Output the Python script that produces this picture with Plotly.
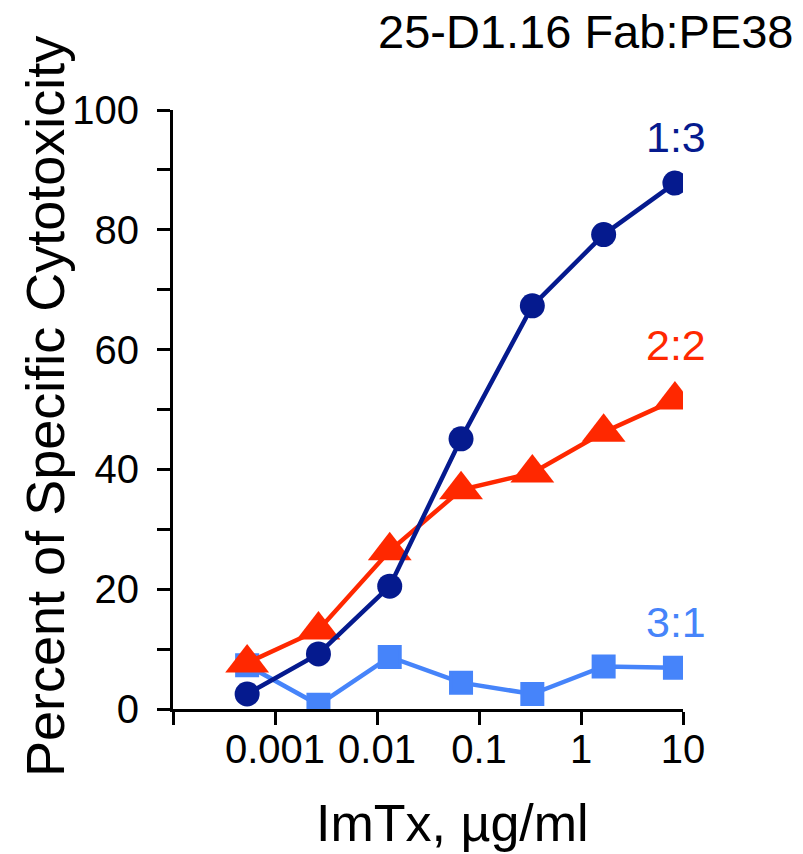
import plotly.graph_objects as go

# ---- data ----
conc_ug_ml = [0.000533, 0.002667, 0.01333, 0.06667, 0.3333, 1.667, 8.333]
ratio_labels = ["1:3", "2:2", "3:1"]
cyto_1_3 = [2.5, 9.2, 20.5, 45.1, 67.3, 79.2, 87.8]
cyto_2_2 = [7.7, 13.2, 26.4, 36.6, 39.4, 46.2, 51.6]
cyto_3_1 = [7.3, 0.7, 8.7, 4.4, 2.5, 7.1, 6.9]
label_y = [95.5, 60.8, 14.5]

x_tickvals = [0.0001, 0.001, 0.01, 0.1, 1, 10]
x_ticktext = ["", "0.001", "0.01", "0.1", "1", "10"]
y_tickvals = [0, 10, 20, 30, 40, 50, 60, 70, 80, 90, 100]
y_ticktext = ["0", "", "20", "", "40", "", "60", "", "80", "", "100"]

title_text = "25-D1.16 Fab:PE38"
x_title = "ImTx, µg/ml"
y_title = "Percent of Specific Cytotoxicity"

NAVY = "#051A8E"
RED = "#FF2800"
LBLUE = "#4684FA"
FONT = "Arial, Liberation Sans, sans-serif"

FW, FH = 803, 854
PW, PH = 510.0, 599.0          # plot-area size in pixels
L0, T0 = 173.0, 110.0          # plot-area top-left in the window

fig = go.Figure()

fig.add_trace(go.Scatter(
    x=conc_ug_ml, y=cyto_3_1, mode="lines+markers", name=ratio_labels[2],
    line=dict(color=LBLUE, width=4.5),
    marker=dict(symbol="square", size=21, color=LBLUE,
                line=dict(color=LBLUE, width=3)),
))
fig.add_trace(go.Scatter(
    x=conc_ug_ml, y=cyto_2_2, mode="lines+markers", name=ratio_labels[1],
    line=dict(color=RED, width=4.5),
    marker=dict(symbol="triangle-up", size=38, color=RED, line=dict(width=0)),
))
fig.add_trace(go.Scatter(
    x=conc_ug_ml, y=cyto_1_3, mode="lines+markers", name=ratio_labels[0],
    line=dict(color=NAVY, width=4.5),
    marker=dict(symbol="circle", size=25, color=NAVY, line=dict(width=0)),
))

# series labels next to the last points
for txt, yv, col in zip(ratio_labels, label_y, [NAVY, RED, LBLUE]):
    fig.add_annotation(x=0.93, y=yv, xref="x", yref="y", text=txt,
                       showarrow=False, xanchor="center", yanchor="middle",
                       font=dict(family=FONT, size=43, color=col))


def px_x(px):
    return (px - L0) / PW


def px_y(py):
    return (T0 + PH - py) / PH


# chart title (top right)
fig.add_annotation(x=px_x(795), y=px_y(31.5), xref="paper", yref="paper",
                   text=title_text, showarrow=False, xanchor="right", yanchor="middle",
                   font=dict(family=FONT, size=47, color="black"))
# axis titles
fig.add_annotation(x=px_x(452), y=px_y(823), xref="paper", yref="paper",
                   text=x_title, showarrow=False, xanchor="center", yanchor="middle",
                   font=dict(family=FONT, size=52, color="black"))
fig.add_annotation(x=px_x(45), y=px_y(407), xref="paper", yref="paper",
                   text=y_title, showarrow=False, xanchor="center", yanchor="middle",
                   textangle=-90,
                   font=dict(family=FONT, size=54, color="black"))

fig.update_layout(
    width=FW, height=FH,
    margin=dict(l=L0, r=FW - (L0 + PW), t=T0, b=FH - (T0 + PH)),
    paper_bgcolor="white", plot_bgcolor="white",
    showlegend=False,
    font=dict(family=FONT, color="black"),
)
fig.update_xaxes(
    type="log", range=[-4, 1],
    tickvals=x_tickvals, ticktext=x_ticktext,
    ticks="outside", ticklen=13, tickwidth=3, tickcolor="black",
    showline=True, linewidth=3, linecolor="black",
    showgrid=False, zeroline=False,
    tickfont=dict(family=FONT, size=40, color="black"),
    ticklabelstandoff=-10,
)
fig.update_yaxes(
    range=[0, 100],
    tickvals=y_tickvals, ticktext=y_ticktext,
    ticks="outside", ticklen=13, tickwidth=3, tickcolor="black",
    showline=True, linewidth=3, linecolor="black",
    showgrid=False, zeroline=False,
    tickfont=dict(family=FONT, size=40, color="black"),
    ticklabelstandoff=10,
)

# remove the page's default 8px body margin so the figure fills the window
fig.write_html("out.html",
               config={"displayModeBar": False},
               post_script="document.body.style.margin='0';")
